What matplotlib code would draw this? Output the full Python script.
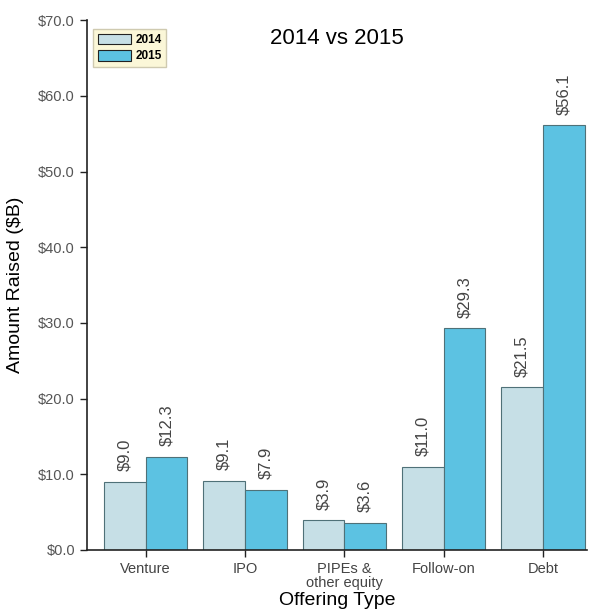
import numpy as np
import matplotlib.pyplot as plt

plt.rcParams['font.family'] = ['Liberation Sans', 'DejaVu Sans']

# offering types and amounts raised ($B)
categories = ["Venture", "IPO", "PIPEs &\nother equity", "Follow-on", "Debt"]
vals_2014 = [9.0, 9.1, 3.9, 11.0, 21.5]
vals_2015 = [12.3, 7.9, 3.6, 29.3, 56.1]
yticks = [0, 10, 20, 30, 40, 50, 60, 70]

c14 = "#c6dfe6"
c15 = "#5cc2e2"
edge = "#4f7178"

fig = plt.figure(figsize=(5.91, 6.13), dpi=100)
ax = fig.add_axes([0.147, 0.103, 0.846, 0.864])

x = np.arange(len(categories))
w = 0.42
b1 = ax.bar(x - w / 2, vals_2014, w, color=c14, edgecolor=edge, linewidth=0.8, label="2014")
b2 = ax.bar(x + w / 2, vals_2015, w, color=c15, edgecolor=edge, linewidth=0.8, label="2015")

# value labels, rotated
for bars, vals in [(b1, vals_2014), (b2, vals_2015)]:
    for r, v in zip(bars, vals):
        ax.text(r.get_x() + r.get_width() / 2, v + 1.4, "$%.1f" % v,
                rotation=90, ha="center", va="bottom", fontsize=12, color="#444444")

ax.set_xlim(-0.59, 4.44)
ax.set_ylim(0, 70)
ax.set_yticks(yticks)
ax.set_yticklabels(["$%.1f" % t for t in yticks], fontsize=10.5, color="#555555")
ax.set_xticks(x)
ax.set_xticklabels(categories, fontsize=10.5, color="#444444", linespacing=1.0)
ax.tick_params(direction="out", length=5, width=1, color="#222222")

for s in ["top", "right"]:
    ax.spines[s].set_visible(False)
for s in ["left", "bottom"]:
    ax.spines[s].set_color("#222222")
    ax.spines[s].set_linewidth(1.2)

ax.set_xlabel("Offering Type", fontsize=14, labelpad=2)
ax.set_ylabel("Amount Raised ($B)", fontsize=14, labelpad=10)
ax.text(0.5, 0.985, "2014 vs 2015", transform=ax.transAxes, ha="center", va="top", fontsize=16)

leg = ax.legend(loc="upper left", bbox_to_anchor=(0.0, 0.995), fontsize=8.5, frameon=True,
                fancybox=False, handlelength=2.8, handleheight=1.0,
                borderpad=0.4, labelspacing=0.35, handletextpad=0.4)
leg.get_frame().set_facecolor("#fbf7d8")
leg.get_frame().set_edgecolor("#cfcab0")
leg.get_frame().set_alpha(1)
for t in leg.get_texts():
    t.set_fontweight("bold")
for h in leg.legend_handles:
    h.set_edgecolor("#222222")

fig.savefig("out.png", dpi=100)
